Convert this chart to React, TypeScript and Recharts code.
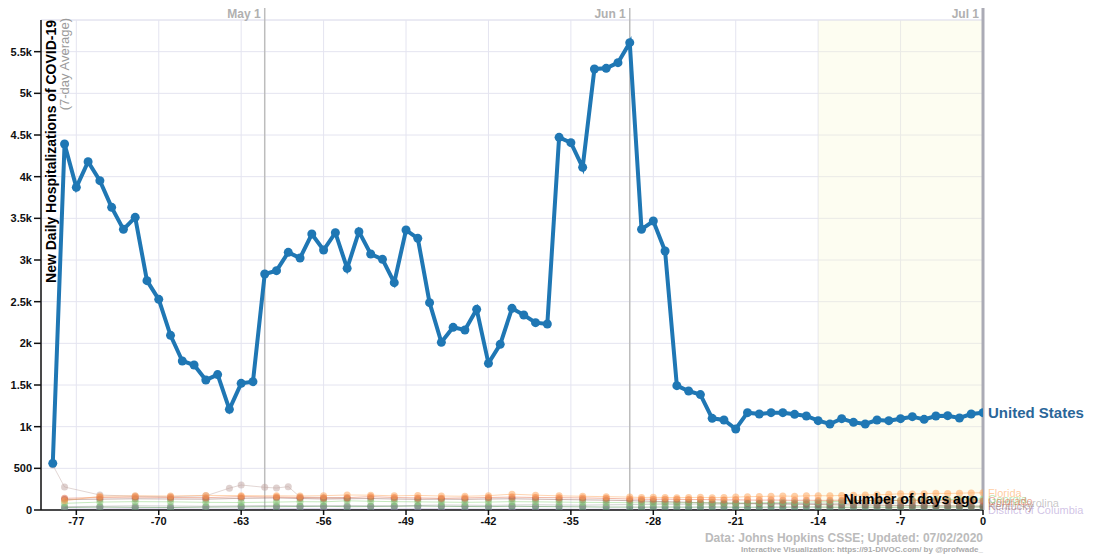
import React from 'react';
import {
  LineChart,
  Line,
  XAxis,
  YAxis,
  CartesianGrid,
  ReferenceLine,
  ReferenceArea,
  LabelList,
} from 'recharts';

const FONT = 'Liberation Sans, Arial, Helvetica, sans-serif';

const X_TICKS = [-77, -70, -63, -56, -49, -42, -35, -28, -21, -14, -7, 0];
const Y_TICKS = [0, 500, 1000, 1500, 2000, 2500, 3000, 3500, 4000, 4500, 5000, 5500];

const US_DAYS = [
  -79, -78, -77, -76, -75, -74, -73, -72, -71, -70,
  -69, -68, -67, -66, -65, -64, -63, -62, -61, -60,
  -59, -58, -57, -56, -55, -54, -53, -52, -51, -50,
  -49, -48, -47, -46, -45, -44, -43, -42, -41, -40,
  -39, -38, -37, -36, -35, -34, -33, -32, -31, -30,
  -29, -28, -27, -26, -25, -24, -23, -22, -21, -20,
  -19, -18, -17, -16, -15, -14, -13, -12, -11, -10,
  -9, -8, -7, -6, -5, -4, -3, -2, -1, 0,
];
const US_VALUES = [
  560, 4392, 3872, 4180, 3952, 3632, 3368, 3512, 2752, 2528,
  2096, 1788, 1740, 1560, 1625, 1208, 1520, 1540, 2832, 2872,
  3092, 3024, 3312, 3120, 3328, 2900, 3340, 3072, 3008, 2728,
  3360, 3260, 2488, 2012, 2192, 2160, 2408, 1760, 1988, 2420,
  2340, 2248, 2232, 4472, 4408, 4112, 5292, 5300, 5368, 5608,
  3368, 3468, 3108, 1492, 1428, 1385, 1100, 1080, 972, 1168,
  1152, 1168, 1168, 1148, 1128, 1072, 1032, 1096, 1052, 1032,
  1080, 1072, 1096, 1120, 1088, 1128, 1132, 1104, 1152, 1168,
];

const STATE_DAYS = [
  -78, -75, -72, -69, -66, -63, -60, -58, -56, -54,
  -52, -50, -48, -46, -44, -42, -40, -38, -36, -34,
  -32, -30, -29, -28, -27, -26, -25, -24, -23, -22,
  -21, -20, -19, -18, -17, -16, -15, -14, -13, -12,
  -11, -10, -9, -8, -7, -6, -5, -4, -3, -2,
  -1, 0,
];
const FLORIDA = [
  110, 165, 170, 168, 175, 172, 170, 168, 172, 180,
  178, 170, 175, 168, 165, 172, 190, 178, 170, 165,
  160, 155, 150, 152, 150, 148, 150, 152, 148, 150,
  155, 160, 162, 165, 168, 165, 170, 172, 170, 175,
  178, 180, 182, 188, 195, 192, 196, 200, 198, 202,
  205, 206,
];
const COLORADO = [
  140, 150, 155, 150, 148, 160, 155, 150, 145, 148,
  160, 150, 145, 140, 145, 150, 155, 150, 148, 145,
  140, 132, 130, 128, 130, 128, 125, 126, 124, 120,
  122, 120, 118, 120, 118, 116, 118, 115, 116, 118,
  115, 114, 116, 112, 114, 112, 110, 112, 110, 108,
  110, 108,
];
const KENTUCKY = [
  125, 130, 135, 132, 130, 140, 145, 138, 132, 135,
  138, 132, 128, 130, 128, 132, 135, 130, 126, 122,
  118, 112, 108, 104, 100, 96, 92, 88, 85, 82,
  80, 78, 76, 74, 72, 70, 68, 66, 64, 62,
  60, 60, 58, 56, 55, 54, 52, 52, 50, 50,
  48, 48,
];
const GEORGIA = [
  80, 95, 100, 98, 92, 90, 95, 100, 98, 110,
  105, 100, 98, 95, 92, 95, 100, 98, 95, 92,
  90, 88, 86, 85, 84, 85, 86, 88, 86, 85,
  84, 86, 88, 90, 92, 90, 95, 98, 100, 105,
  108, 110, 112, 115, 118, 120, 122, 125, 126, 128,
  130, 132,
];
const NORTH_CAROLINA = [
  40, 45, 50, 48, 45, 50, 55, 52, 50, 55,
  52, 50, 55, 60, 58, 55, 60, 62, 60, 58,
  62, 65, 66, 68, 70, 68, 70, 72, 70, 72,
  74, 75, 76, 75, 78, 76, 78, 80, 82, 80,
  82, 84, 82, 85, 84, 86, 85, 88, 86, 88,
  90, 88,
];
const DARK_GREEN = [
  30, 35, 32, 30, 35, 38, 40, 42, 45, 40,
  42, 45, 48, 45, 42, 40, 45, 42, 40, 38,
  35, 35, 34, 35, 36, 35, 34, 35, 36, 35,
  34, 33, 34, 35, 34, 35, 36, 35, 34, 33,
  34, 35, 34, 33, 34, 35, 36, 35, 34, 35,
  36, 35,
];
const DC = [
  10, 12, 14, 12, 10, 12, 14, 15, 14, 12,
  10, 12, 14, 13, 12, 10, 12, 11, 10, 9,
  10, 8, 8, 9, 8, 7, 8, 8, 7, 8,
  7, 6, 7, 8, 7, 6, 7, 6, 5, 6,
  7, 6, 5, 6, 6, 5, 6, 5, 6, 5,
  6, 5,
];
const GRAY_DAYS = [-79, -78, -75, -72, -69, -66, -64, -63, -61, -60, -59, -58, -56, -54];
const GRAY_VALUES = [540, 276, 180, 165, 160, 170, 262, 300, 272, 264, 280, 156, 150, 145];

const toPts = (days: number[], vals: number[]) => days.map((d, i) => ({ x: d, y: vals[i] }));

const usData = toPts(US_DAYS, US_VALUES);

const STATES = [
  { name: '', color: '#bfa3a0', data: toPts(GRAY_DAYS, GRAY_VALUES) },
  { name: 'District of Columbia', color: '#a98fd0', data: toPts(STATE_DAYS, DC) },
  { name: '', color: '#2e7d32', data: toPts(STATE_DAYS, DARK_GREEN) },
  { name: 'North Carolina', color: '#9a9a9a', data: toPts(STATE_DAYS, NORTH_CAROLINA) },
  { name: 'Kentucky', color: '#8c564b', data: toPts(STATE_DAYS, KENTUCKY) },
  { name: 'Georgia', color: '#7fcf6f', data: toPts(STATE_DAYS, GEORGIA) },
  { name: 'Colorado', color: '#e0603a', data: toPts(STATE_DAYS, COLORADO) },
  { name: 'Florida', color: '#ffa050', data: toPts(STATE_DAYS, FLORIDA) },
];

const yFmt = (v: number) => (v === 0 ? '0' : v < 1000 ? String(v) : `${v / 1000}k`);

const endLabel = (name: string, color: string, last: number, size: number, weight: string, opacity: number) =>
  (props: any) => {
    if (props.index !== last || !name) return null;
    return (
      <text
        x={props.x + 5}
        y={props.y}
        dy={size * 0.36}
        fill={color}
        fillOpacity={opacity}
        fontSize={size}
        fontWeight={weight}
        fontFamily={FONT}
      >
        {name}
      </text>
    );
  };

const ExtLine = (p: any) => {
  const y1 = Math.min(p.y1, p.y2);
  const y2 = Math.max(p.y1, p.y2);
  return <line x1={p.x1} x2={p.x2} y1={y1 - 12} y2={y2} stroke={p.stroke} strokeWidth={p.strokeWidth} />;
};

const topLabel = (text: string) => (props: any) => {
  const vb = props.viewBox || {};
  return (
    <text x={vb.x - 4} y={vb.y - 2} textAnchor="end" fill="#b0b0b0" fontSize={12} fontWeight="bold" fontFamily={FONT}>
      {text}
    </text>
  );
};

export default function App() {
  return (
    <div style={{ position: 'absolute', left: 0, top: 0, width: 1110, height: 555, background: '#fff', fontFamily: FONT }}>
      <LineChart width={1110} height={555} margin={{ top: 20, right: 127, bottom: 25, left: 0 }}>
        <ReferenceArea x1={-14} x2={0} y1={0} y2={5880} fill="#fafad2" fillOpacity={0.3} stroke="none" />
        <CartesianGrid stroke="#e4e4f0" strokeWidth={1} />
        <ReferenceLine y={5880} stroke="#e4e4f0" />
        <XAxis
          type="number"
          dataKey="x"
          domain={[-80, 0]}
          ticks={X_TICKS}
          interval={0}
          allowDataOverflow
          height={20}
          tickSize={5}
          tickMargin={2}
          axisLine={{ stroke: '#111', strokeWidth: 1.5 }}
          tickLine={{ stroke: '#111', strokeWidth: 1.5 }}
          tick={{ fill: '#111', fontSize: 11, fontWeight: 'bold', fontFamily: FONT }}
        />
        <YAxis
          type="number"
          domain={[0, 5880]}
          ticks={Y_TICKS}
          interval={0}
          allowDataOverflow
          width={41}
          tickSize={7}
          tickMargin={2}
          tickFormatter={yFmt}
          axisLine={{ stroke: '#111', strokeWidth: 1.5 }}
          tickLine={{ stroke: '#111', strokeWidth: 1.5 }}
          tick={{ fill: '#111', fontSize: 11, fontWeight: 'bold', fontFamily: FONT }}
        />
        <ReferenceLine x={-61} stroke="#bdbdbd" strokeWidth={1.5} shape={ExtLine} label={topLabel('May 1')} />
        <ReferenceLine x={-30} stroke="#bdbdbd" strokeWidth={1.5} shape={ExtLine} label={topLabel('Jun 1')} />
        <ReferenceLine x={0} stroke="#ababb5" strokeWidth={3} shape={ExtLine} label={topLabel('Jul 1')} />
        {STATES.map((s, i) => (
          <Line
            key={i}
            data={s.data}
            dataKey="y"
            type="linear"
            stroke={s.color}
            strokeOpacity={0.45}
            strokeWidth={1}
            dot={{ r: 3.5, fill: s.color, fillOpacity: 0.5, stroke: 'none' }}
            isAnimationActive={false}
          >
            <LabelList dataKey="y" content={endLabel(s.name, s.color, s.data.length - 1, 11, 'normal', 0.55)} />
          </Line>
        ))}
        <Line
          data={usData}
          dataKey="y"
          type="linear"
          stroke="#1f77b4"
          strokeWidth={4}
          dot={{ r: 4.5, fill: '#1f77b4', stroke: 'none' }}
          isAnimationActive={false}
        >
          <LabelList dataKey="y" content={endLabel('United States', '#2a6699', usData.length - 1, 15, 'bold', 1)} />
        </Line>
      </LineChart>
      <svg width={1110} height={555} style={{ position: 'absolute', left: 0, top: 0, pointerEvents: 'none' }}>
        <text transform="translate(56,20) rotate(-90)" textAnchor="end" fontSize={14} fontWeight="bold" fill="#000" fontFamily={FONT}>
          New Daily Hospitalizations of COVID-19
        </text>
        <text transform="translate(69,18) rotate(-90)" textAnchor="end" fontSize={13} fill="#9a9a9a" fontFamily={FONT}>
          (7-day Average)
        </text>
        <text x={978} y={504} textAnchor="end" fontSize={14} fontWeight="bold" fill="#000" fontFamily={FONT}>
          Number of days ago
        </text>
        <text x={983} y={542} textAnchor="end" fontSize={12} fontWeight="bold" fill="#bbbbbb" fontFamily={FONT}>
          Data: Johns Hopkins CSSE; Updated: 07/02/2020
        </text>
        <text x={983} y={552} textAnchor="end" fontSize={8} fontWeight="bold" fill="#aaaaaa" fontFamily={FONT}>
          Interactive Visualization: https://91-DIVOC.com/ by @profwade_
        </text>
      </svg>
    </div>
  );
}
